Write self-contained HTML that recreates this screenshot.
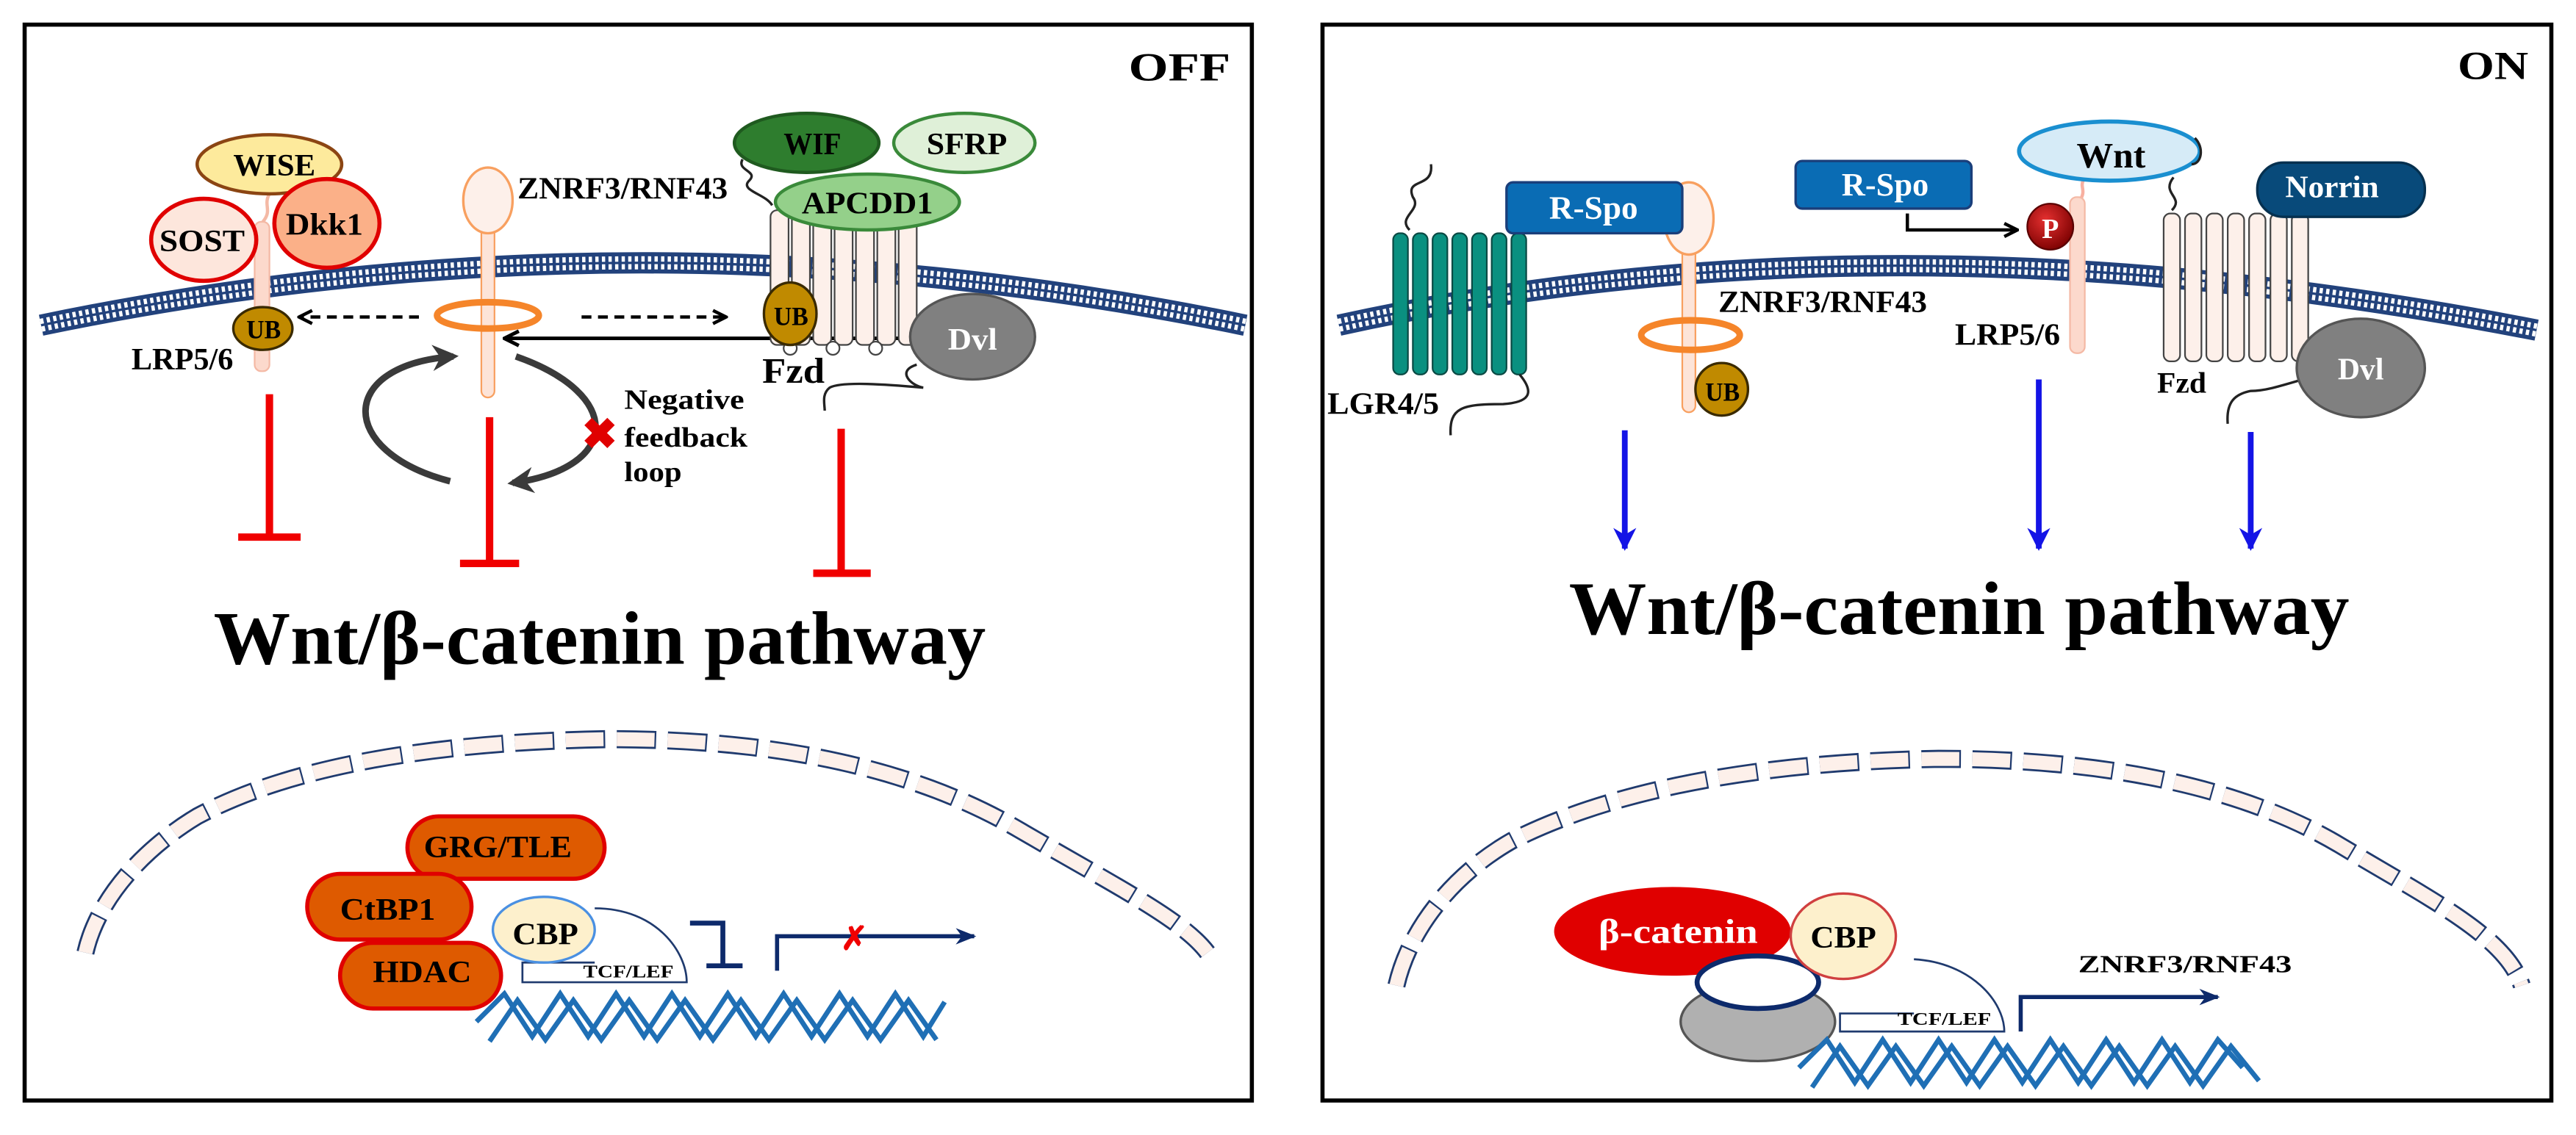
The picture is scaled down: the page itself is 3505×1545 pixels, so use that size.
<!DOCTYPE html>
<html><head><meta charset="utf-8"><style>
html,body{margin:0;padding:0;background:#fff}
svg{display:block}
text{font-family:"Liberation Serif",serif;font-weight:bold}
</style></head><body>
<svg width="3505" height="1545" viewBox="0 0 1568 691" preserveAspectRatio="none" xmlns="http://www.w3.org/2000/svg">
<defs>
<marker id="ab" viewBox="0 0 10 10" refX="9" refY="5" markerWidth="4" markerHeight="4" orient="auto"><path d="M0,0 L10,5 L0,10 L3,5z" fill="#1414e6"/></marker>
<marker id="ak" viewBox="0 0 10 10" refX="9" refY="5" markerWidth="5" markerHeight="5" orient="auto"><path d="M1,1 L9,5 L1,9" fill="none" stroke="#000" stroke-width="2"/></marker>
<marker id="ag" viewBox="0 0 10 10" refX="8" refY="5" markerWidth="4" markerHeight="4" orient="auto"><path d="M0,0 L10,5 L0,10 L3,5z" fill="#3a3a3a"/></marker>
<marker id="an" viewBox="0 0 10 10" refX="9" refY="5" markerWidth="5" markerHeight="5" orient="auto"><path d="M0,1 L10,5 L0,9 L3,5z" fill="#0d2a6b"/></marker>
<radialGradient id="pg" cx="0.4" cy="0.35" r="0.7"><stop offset="0" stop-color="#e53030"/><stop offset="1" stop-color="#7a0000"/></radialGradient>
</defs>

<!-- panels -->
<rect x="15" y="15" width="747" height="655" fill="#fff" stroke="#000" stroke-width="2.5"/>
<rect x="805" y="15" width="748" height="655" fill="#fff" stroke="#000" stroke-width="2.5"/>
<text x="687" y="49" font-size="24" textLength="62" lengthAdjust="spacingAndGlyphs">OFF</text>
<text x="1496" y="48" font-size="24" textLength="43" lengthAdjust="spacingAndGlyphs">ON</text>

<!-- membranes -->
<g fill="none">
<path d="M25,198 Q390,122 758,198" stroke="#22427c" stroke-width="13"/>
<path d="M25,198 Q390,122 758,198" stroke="#fff" stroke-width="8" stroke-dasharray="2 2"/>
<path d="M25,198 Q390,122 758,198" stroke="#22427c" stroke-width="1.5"/>
<path d="M815,198 Q1150,124 1544,201" stroke="#22427c" stroke-width="13"/>
<path d="M815,198 Q1150,124 1544,201" stroke="#fff" stroke-width="8" stroke-dasharray="2 2"/>
<path d="M815,198 Q1150,124 1544,201" stroke="#22427c" stroke-width="1.5"/>
</g>

<!- ===== LEFT PANEL ===== -->
<!-- LRP5/6 -->
<path d="M164,118 C160,125 166,128 160,135" fill="none" stroke="#f4b9a5" stroke-width="2"/>
<rect x="155" y="135" width="9" height="91" rx="4" fill="#fcd9cc" stroke="#f4b9a5" stroke-width="1"/>
<ellipse cx="164" cy="100" rx="44" ry="18" fill="#fdea9c" stroke="#8b4513" stroke-width="2"/>
<text x="142" y="107" font-size="19" textLength="50" lengthAdjust="spacingAndGlyphs">WISE</text>
<ellipse cx="124" cy="146" rx="32" ry="25" fill="#fde6dc" stroke="#e00000" stroke-width="2.5"/>
<text x="97" y="153" font-size="19" textLength="52" lengthAdjust="spacingAndGlyphs">SOST</text>
<ellipse cx="199" cy="136" rx="32" ry="27" fill="#fbb088" stroke="#e00000" stroke-width="2.5"/>
<text x="174" y="143" font-size="19" textLength="47" lengthAdjust="spacingAndGlyphs">Dkk1</text>
<ellipse cx="160" cy="200" rx="18" ry="13" fill="#c08a00" stroke="#3a2a00" stroke-width="1.5"/>
<text x="150" y="206" font-size="16" textLength="21" lengthAdjust="spacingAndGlyphs">UB</text>
<text x="80" y="225" font-size="19" textLength="62" lengthAdjust="spacingAndGlyphs">LRP5/6</text>

<!-- ZNRF3 -->
<rect x="293" y="135" width="8" height="107" rx="4" fill="#fde4d8" stroke="#f8a060" stroke-width="1"/>
<ellipse cx="297" cy="122" rx="15" ry="20" fill="#fdf0ea" stroke="#f8a060" stroke-width="1.5"/>
<ellipse cx="297" cy="192" rx="31" ry="8" fill="none" stroke="#f5852a" stroke-width="4"/>
<text x="315" y="121" font-size="19" textLength="128" lengthAdjust="spacingAndGlyphs">ZNRF3/RNF43</text>
<line x1="255" y1="193" x2="182" y2="193" stroke="#000" stroke-width="2" stroke-dasharray="6 4" marker-end="url(#ak)"/>
<line x1="354" y1="193" x2="442" y2="193" stroke="#000" stroke-width="2" stroke-dasharray="6 4" marker-end="url(#ak)"/>
<line x1="547" y1="206" x2="307" y2="206" stroke="#000" stroke-width="2.2" marker-end="url(#ak)"/>

<!-- feedback arrows -->
<path d="M274,293 C205,275 205,222 276,217" fill="none" stroke="#3a3a3a" stroke-width="4" marker-end="url(#ag)"/>
<path d="M314,217 C380,240 378,285 312,294" fill="none" stroke="#3a3a3a" stroke-width="4" marker-end="url(#ag)"/>
<text x="365" y="273" font-size="26" fill="#e00000" text-anchor="middle" font-family="DejaVu Sans">✖</text>
<text x="380" y="249" font-size="17" textLength="73" lengthAdjust="spacingAndGlyphs">Negative</text>
<text x="380" y="272" font-size="17" textLength="75" lengthAdjust="spacingAndGlyphs">feedback</text>
<text x="380" y="293" font-size="17" textLength="35" lengthAdjust="spacingAndGlyphs">loop</text>

<!-- Fzd left -->
<g fill="#fdf0ea" stroke="#444" stroke-width="1">
<rect x="469" y="128" width="11" height="82" rx="4"/><rect x="482" y="128" width="11" height="82" rx="4"/>
<rect x="495" y="128" width="11" height="82" rx="4"/><rect x="508" y="128" width="11" height="82" rx="4"/>
<rect x="521" y="128" width="11" height="82" rx="4"/><rect x="534" y="128" width="11" height="82" rx="4"/>
<rect x="547" y="128" width="11" height="82" rx="4"/>
</g>
<g fill="#fff" stroke="#444" stroke-width="1">
<circle cx="481" cy="212" r="4"/><circle cx="507" cy="212" r="4"/><circle cx="533" cy="212" r="4"/>
</g>
<ellipse cx="491" cy="87" rx="44" ry="18" fill="#2e7d2e" stroke="#1f5a1f" stroke-width="2"/>
<text x="477" y="94" font-size="19" textLength="35" lengthAdjust="spacingAndGlyphs">WIF</text>
<ellipse cx="587" cy="87" rx="43" ry="18" fill="#dff0d8" stroke="#3a8a3a" stroke-width="2"/>
<text x="564" y="94" font-size="19" textLength="49" lengthAdjust="spacingAndGlyphs">SFRP</text>
<ellipse cx="528" cy="123" rx="56" ry="17" fill="#94d08a" stroke="#3a8a3a" stroke-width="2"/>
<text x="488" y="130" font-size="19" textLength="80" lengthAdjust="spacingAndGlyphs">APCDD1</text>
<path d="M452,97 C448,104 462,104 456,110 C450,116 466,118 470,125" fill="none" stroke="#222" stroke-width="1.5"/>
<ellipse cx="481" cy="191" rx="16" ry="19" fill="#c08a00" stroke="#3a2a00" stroke-width="1.5"/>
<text x="471" y="198" font-size="16" textLength="21" lengthAdjust="spacingAndGlyphs">UB</text>
<path d="M558,222 C545,226 555,235 562,236 C540,234 512,232 505,236 C500,240 502,246 502,250" fill="none" stroke="#222" stroke-width="1.5"/>
<ellipse cx="592" cy="205" rx="38" ry="26" fill="#808080" stroke="#555" stroke-width="1.5"/>
<text x="577" y="213" font-size="19" fill="#fff" textLength="30" lengthAdjust="spacingAndGlyphs">Dvl</text>
<text x="464" y="233" font-size="22" textLength="38" lengthAdjust="spacingAndGlyphs">Fzd</text>

<!-- red inhibitions -->
<g stroke="#f00000" stroke-width="4.5" fill="none">
<line x1="164" y1="240" x2="164" y2="326"/><line x1="145" y1="327" x2="183" y2="327"/>
<line x1="298" y1="254" x2="298" y2="342"/><line x1="280" y1="343" x2="316" y2="343"/>
<line x1="512" y1="261" x2="512" y2="348"/><line x1="495" y1="349" x2="530" y2="349"/>
</g>

<text x="130" y="404" font-size="46" textLength="470" lengthAdjust="spacingAndGlyphs">Wnt/β-catenin pathway</text>

<!-- nucleus left -->
<g fill="none" stroke-linejoin="round">
<path d="M52,580 C60,545 90,515 120,497 C170,470 250,452 370,450 C480,450 560,470 620,505 C680,540 720,560 735,580" stroke="#1f3a6e" stroke-width="11" stroke-dasharray="24 7"/>
<path d="M52,580 C60,545 90,515 120,497 C170,470 250,452 370,450 C480,450 560,470 620,505 C680,540 720,560 735,580" stroke="#fdf0ea" stroke-width="8.5" stroke-dasharray="23 8"/>
</g>
<rect x="248" y="497" width="120" height="38" rx="19" fill="#de5a00" stroke="#e00000" stroke-width="2.5"/>
<text x="258" y="522" font-size="19" textLength="90" lengthAdjust="spacingAndGlyphs">GRG/TLE</text>
<rect x="187" y="532" width="100" height="40" rx="20" fill="#de5a00" stroke="#e00000" stroke-width="2.5"/>
<text x="207" y="560" font-size="19" textLength="58" lengthAdjust="spacingAndGlyphs">CtBP1</text>
<rect x="207" y="574" width="98" height="40" rx="20" fill="#de5a00" stroke="#e00000" stroke-width="2.5"/>
<text x="227" y="598" font-size="19" textLength="60" lengthAdjust="spacingAndGlyphs">HDAC</text>
<path d="M362,553 C400,553 418,580 418,598 L318,598 L318,586 L362,586" fill="#fff" stroke="#1f3a6e" stroke-width="1.2"/>
<ellipse cx="331" cy="566" rx="31" ry="20" fill="#fdf0cc" stroke="#4a90e2" stroke-width="1.5"/>
<text x="312" y="575" font-size="19" textLength="40" lengthAdjust="spacingAndGlyphs">CBP</text>
<text x="355" y="595" font-size="11" textLength="55" lengthAdjust="spacingAndGlyphs">TCF/LEF</text>
<g stroke="#0d2a6b" stroke-width="3" fill="none">
<path d="M420,562 L440,562 L440,588"/><line x1="430" y1="588" x2="452" y2="588"/>
<path d="M473,591 L473,570 L593,570" stroke-width="2.5" marker-end="url(#an)"/>
</g>
<text x="520" y="578" font-size="20" fill="#f00000" text-anchor="middle" font-family="DejaVu Sans" font-weight="normal">✗</text>
<g fill="none" stroke="#1f6fb5" stroke-width="3">
<polyline points="290,622 307,605 324,631 341,605 358,631 375,605 392,631 409,605 426,631 443,605 460,631 477,605 494,631 511,605 528,631 545,605 562,631 575,610"/>
<polyline points="298,634 315,609 332,633 349,609 366,633 383,609 400,633 417,609 434,633 451,609 468,633 485,609 502,633 519,609 536,633 553,609 570,633"/>
</g>

<!-- ===== RIGHT PANEL ===== -->
<!-- LGR4/5 -->
<path d="M871,100 C873,115 855,108 860,120 C866,128 850,132 858,140" fill="none" stroke="#222" stroke-width="1.5"/>
<g fill="#0a9080" stroke="#0a4a44" stroke-width="1">
<rect x="848" y="142" width="9" height="86" rx="4"/><rect x="860" y="142" width="9" height="86" rx="4"/>
<rect x="872" y="142" width="9" height="86" rx="4"/><rect x="884" y="142" width="9" height="86" rx="4"/>
<rect x="896" y="142" width="9" height="86" rx="4"/><rect x="908" y="142" width="9" height="86" rx="4"/>
<rect x="920" y="142" width="9" height="86" rx="4"/>
</g>
<path d="M925,228 C935,240 930,245 915,246 C890,246 882,248 883,265" fill="none" stroke="#222" stroke-width="1.5"/>
<text x="808" y="252" font-size="19" textLength="68" lengthAdjust="spacingAndGlyphs">LGR4/5</text>
<!-- ZNRF3 right -->
<rect x="1024" y="145" width="8" height="106" rx="4" fill="#fde4d8" stroke="#f8a060" stroke-width="1"/>
<ellipse cx="1028" cy="133" rx="15" ry="22" fill="#fdf0ea" stroke="#f8a060" stroke-width="1.5"/>
<rect x="917" y="111" width="107" height="31" rx="4" fill="#0a6cb4" stroke="#1a3e7a" stroke-width="1.5"/>
<text x="943" y="133" font-size="20" fill="#fff" textLength="54" lengthAdjust="spacingAndGlyphs" font-weight="normal">R-Spo</text>
<ellipse cx="1029" cy="204" rx="30" ry="9" fill="none" stroke="#f5852a" stroke-width="4"/>
<circle cx="1048" cy="237" r="16" fill="#c08a00" stroke="#3a2a00" stroke-width="1.5"/>
<text x="1038" y="244" font-size="16" textLength="21" lengthAdjust="spacingAndGlyphs">UB</text>
<text x="1046" y="190" font-size="19" textLength="127" lengthAdjust="spacingAndGlyphs">ZNRF3/RNF43</text>
<!-- R-Spo 2 -->
<rect x="1093" y="98" width="107" height="29" rx="4" fill="#0a6cb4" stroke="#1a3e7a" stroke-width="1.5"/>
<text x="1121" y="119" font-size="20" fill="#fff" textLength="53" lengthAdjust="spacingAndGlyphs" font-weight="normal">R-Spo</text>
<path d="M1161,130 L1161,140 L1228,140" fill="none" stroke="#000" stroke-width="2" marker-end="url(#ak)"/>
<!-- LRP5/6 right -->
<path d="M1268,110 C1266,114 1270,116 1266,122" fill="none" stroke="#f8b0a0" stroke-width="2"/>
<rect x="1260" y="120" width="9" height="95" rx="4" fill="#fcd9cc" stroke="#f4b9a5" stroke-width="1"/>
<circle cx="1248" cy="138" r="14" fill="url(#pg)" stroke="#5a0000" stroke-width="1"/>
<text x="1248" y="145" font-size="17" fill="#fff" text-anchor="middle" font-weight="normal">P</text>
<ellipse cx="1284" cy="92" rx="55" ry="18" fill="#d6ebf7" stroke="#1a8fd0" stroke-width="2.5"/>
<text x="1264" y="102" font-size="22" textLength="42" lengthAdjust="spacingAndGlyphs">Wnt</text>
<path d="M1336,84 C1342,90 1340,100 1334,100" fill="none" stroke="#222" stroke-width="1.5"/>
<text x="1190" y="210" font-size="19" textLength="64" lengthAdjust="spacingAndGlyphs">LRP5/6</text>
<!-- Fzd right -->
<path d="M1323,108 C1315,118 1330,120 1322,128" fill="none" stroke="#222" stroke-width="1.5"/>
<g fill="#fdf0ea" stroke="#444" stroke-width="1">
<rect x="1317" y="130" width="10" height="90" rx="4"/><rect x="1330" y="130" width="10" height="90" rx="4"/>
<rect x="1343" y="130" width="10" height="90" rx="4"/><rect x="1356" y="130" width="10" height="90" rx="4"/>
<rect x="1369" y="130" width="10" height="90" rx="4"/><rect x="1382" y="130" width="10" height="90" rx="4"/>
<rect x="1395" y="130" width="10" height="90" rx="4"/>
</g>
<rect x="1374" y="99" width="102" height="33" rx="16" fill="#084a7a" stroke="#05304f" stroke-width="1.5"/>
<text x="1391" y="120" font-size="19" fill="#fff" textLength="57" lengthAdjust="spacingAndGlyphs" font-weight="normal">Norrin</text>
<path d="M1405,230 C1385,236 1378,238 1370,238 C1360,240 1355,245 1356,258" fill="none" stroke="#222" stroke-width="1.5"/>
<ellipse cx="1437" cy="224" rx="39" ry="30" fill="#808080" stroke="#555" stroke-width="1.5"/>
<text x="1423" y="231" font-size="19" fill="#fff" textLength="28" lengthAdjust="spacingAndGlyphs">Dvl</text>
<text x="1313" y="239" font-size="18" textLength="30" lengthAdjust="spacingAndGlyphs">Fzd</text>

<!-- blue arrows -->
<g stroke="#1414e6" stroke-width="3.5" fill="none">
<line x1="989" y1="262" x2="989" y2="334" marker-end="url(#ab)"/>
<line x1="1241" y1="231" x2="1241" y2="334" marker-end="url(#ab)"/>
<line x1="1370" y1="263" x2="1370" y2="334" marker-end="url(#ab)"/>
</g>
<text x="955" y="386" font-size="46" textLength="475" lengthAdjust="spacingAndGlyphs">Wnt/β-catenin pathway</text>

<!-- nucleus right -->
<g fill="none" stroke-linejoin="round">
<path d="M850,600 C858,565 885,532 920,512 C975,484 1060,464 1180,462 C1290,462 1370,482 1425,515 C1480,548 1525,570 1535,600" stroke="#1f3a6e" stroke-width="11" stroke-dasharray="24 7"/>
<path d="M850,600 C858,565 885,532 920,512 C975,484 1060,464 1180,462 C1290,462 1370,482 1425,515 C1480,548 1525,570 1535,600" stroke="#fdf0ea" stroke-width="8.5" stroke-dasharray="23 8"/>
</g>
<path d="M1165,584 C1200,586 1220,610 1220,628 L1120,628 L1120,617 L1165,617" fill="#fff" stroke="#1f3a6e" stroke-width="1.2"/>
<ellipse cx="1070" cy="622" rx="47" ry="24" fill="#b0b0b0" stroke="#555" stroke-width="1.5"/>
<ellipse cx="1018" cy="567" rx="72" ry="27" fill="#e00000"/>
<text x="973" y="574" font-size="21" fill="#fff" textLength="97" lengthAdjust="spacingAndGlyphs">β-catenin</text>
<ellipse cx="1070" cy="598" rx="37" ry="16" fill="#fff" stroke="#0d2a6b" stroke-width="3"/>
<ellipse cx="1122" cy="570" rx="32" ry="26" fill="#fdf0cc" stroke="#d04040" stroke-width="1.5"/>
<text x="1102" y="577" font-size="19" textLength="40" lengthAdjust="spacingAndGlyphs">CBP</text>
<text x="1155" y="624" font-size="11" textLength="57" lengthAdjust="spacingAndGlyphs">TCF/LEF</text>
<path d="M1230,628 L1230,607 L1350,607" fill="none" stroke="#0d2a6b" stroke-width="2.5" marker-end="url(#an)"/>
<text x="1265" y="592" font-size="15" textLength="130" lengthAdjust="spacingAndGlyphs">ZNRF3/RNF43</text>
<g fill="none" stroke="#1f6fb5" stroke-width="3">
<polyline points="1095,650 1112,633 1129,659 1146,633 1163,659 1180,633 1197,659 1214,633 1231,659 1248,633 1265,659 1282,633 1299,659 1316,633 1333,659 1350,633 1365,650"/>
<polyline points="1103,662 1120,637 1137,661 1154,637 1171,661 1188,637 1205,661 1222,637 1239,661 1256,637 1273,661 1290,637 1307,661 1324,637 1341,661 1358,637 1375,658"/>
</g>
</svg>
</body></html>
